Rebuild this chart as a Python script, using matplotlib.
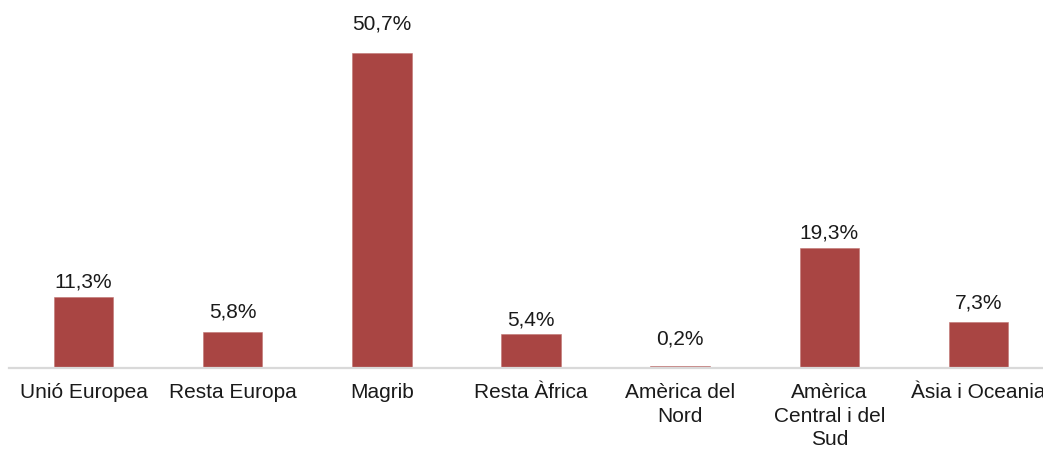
import matplotlib
matplotlib.use("Agg")
import matplotlib.pyplot as plt

categories = ["Unió Europea", "Resta Europa", "Magrib", "Resta Àfrica",
              "Amèrica del\nNord", "Amèrica\nCentral i del\nSud", "Àsia i Oceania"]
values = [11.3, 5.8, 50.7, 5.4, 0.2, 19.3, 7.3]
value_labels = ["11,3%", "5,8%", "50,7%", "5,4%", "0,2%", "19,3%", "7,3%"]

# label gap above each bar, in points (manual placement in original)
label_gaps_pt = [4.5, 7, 14, 3, 13, 4, 7]

plt.rcParams['font.family'] = ['Liberation Sans', 'DejaVu Sans']

W, H = 1043, 453
fig = plt.figure(figsize=(W / 100, H / 100), dpi=100)
left_px = 8.9
width_px = 7 * 149.17
bottom_px = 453 - 367.5
ax = fig.add_axes([left_px / W, bottom_px / H, width_px / W, 55 * 6.2 / H])

x = list(range(len(categories)))
ax.bar(x, values, width=0.4, color='#A94543', edgecolor='#C07573', linewidth=0.4, zorder=2)

for xi, v, lab, gap in zip(x, values, value_labels, label_gaps_pt):
    ax.annotate(lab, (xi, v), xytext=(0, gap), textcoords='offset points',
                ha='center', va='bottom', fontsize=15, color='#1a1a1a')

ax.set_xlim(-0.5, len(categories) - 0.5)
ax.set_ylim(0, 55)
ax.set_xticks(x)
ax.set_xticklabels(categories, fontsize=15, color='#1a1a1a', linespacing=1.28)
ax.tick_params(axis='x', length=0, pad=11.5)
ax.set_yticks([])
for s in ['top', 'right', 'left']:
    ax.spines[s].set_visible(False)
ax.spines['bottom'].set_color('#d9d9d9')
ax.spines['bottom'].set_linewidth(1.6)
ax.spines['bottom'].set_zorder(3)

fig.savefig('out.png', dpi=100)
